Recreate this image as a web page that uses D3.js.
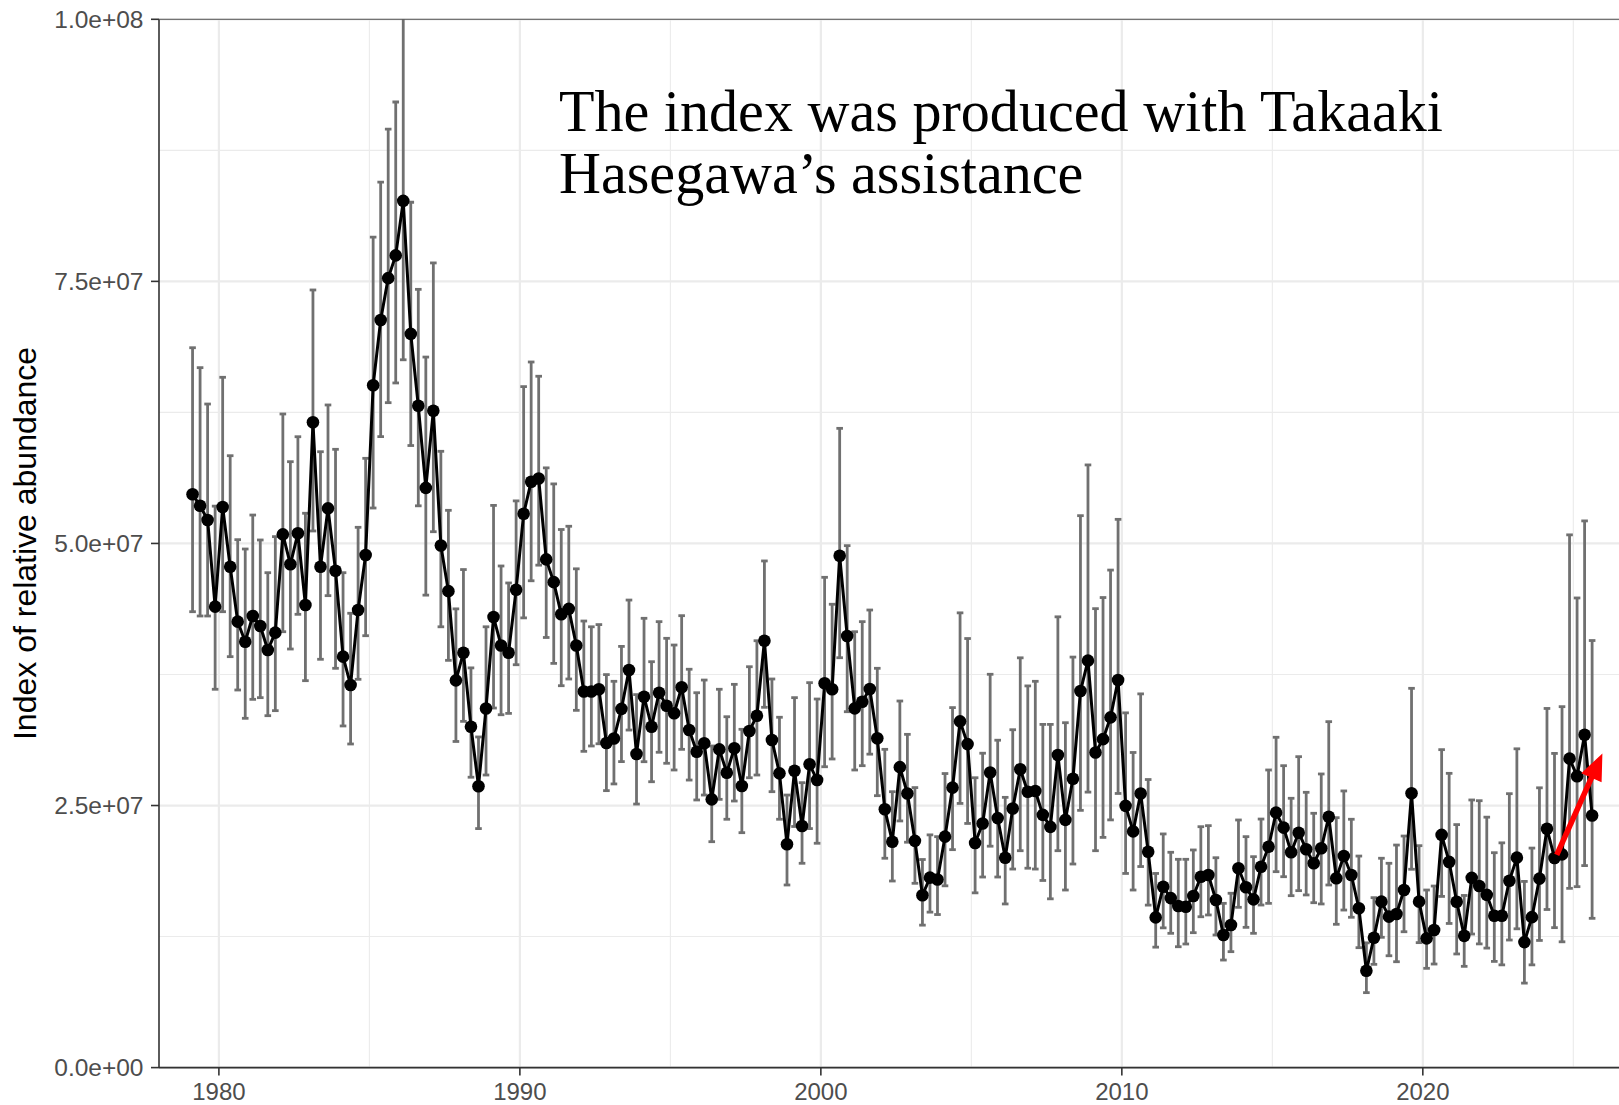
<!DOCTYPE html>
<html>
<head>
<meta charset="utf-8">
<script src="https://cdn.jsdelivr.net/npm/d3@7"></script>
<style>
  body { margin: 0; background: white; }
  svg { display: block; }
</style>
</head>
<body>
<div id="chart"></div>
<script>
// quarterly index, first quarter of 1979 onwards (units of 1e7)
const firstYear = 1979;
const index = [
  5.469, 5.360, 5.224, 4.397, 5.348, 4.778, 4.254, 4.063, 4.308, 4.213,
  3.984, 4.149, 5.087, 4.801, 5.097, 4.413, 6.156, 4.778, 5.335, 4.740,
  3.920, 3.650, 4.365, 4.890, 6.509, 7.131, 7.531, 7.748, 8.268, 6.999,
  6.313, 5.530, 6.266, 4.981, 4.545, 3.694, 3.958, 3.251, 2.684, 3.426,
  4.298, 4.027, 3.958, 4.559, 5.283, 5.589, 5.619, 4.848, 4.631, 4.324,
  4.376, 4.027, 3.588, 3.588, 3.609, 3.097, 3.140, 3.422, 3.793, 2.991,
  3.538, 3.252, 3.576, 3.452, 3.380, 3.628, 3.220, 3.013, 3.094, 2.559,
  3.036, 2.813, 3.046, 2.686, 3.211, 3.357, 4.072, 3.125, 2.807, 2.130,
  2.832, 2.305, 2.893, 2.743, 3.666, 3.609, 4.883, 4.117, 3.427, 3.490,
  3.612, 3.141, 2.464, 2.155, 2.866, 2.615, 2.163, 1.644, 1.812, 1.794,
  2.203, 2.671, 3.303, 3.086, 2.143, 2.329, 2.815, 2.380, 2.002, 2.471,
  2.846, 2.631, 2.638, 2.411, 2.296, 2.982, 2.363, 2.755, 3.592, 3.882,
  3.006, 3.133, 3.341, 3.698, 2.497, 2.253, 2.615, 2.059, 1.433, 1.725,
  1.617, 1.542, 1.535, 1.637, 1.821, 1.837, 1.599, 1.265, 1.360, 1.901,
  1.720, 1.605, 1.916, 2.107, 2.432, 2.289, 2.054, 2.241, 2.083, 1.949,
  2.092, 2.393, 1.806, 2.018, 1.837, 1.520, 0.924, 1.239, 1.583, 1.440,
  1.465, 1.694, 2.617, 1.583, 1.233, 1.313, 2.220, 1.962, 1.582, 1.257,
  1.810, 1.732, 1.648, 1.448, 1.448, 1.783, 2.003, 1.197, 1.435, 1.803,
  2.278, 2.000, 2.034, 2.947, 2.780, 3.175, 2.405
];
const lower = [
  4.349, 4.308, 4.308, 3.609, 4.349, 3.920, 3.602, 3.332, 3.513, 3.529,
  3.357, 3.405, 4.158, 3.993, 4.324, 3.691, 5.119, 3.895, 4.502, 3.809,
  3.259, 3.087, 3.704, 4.120, 5.338, 6.019, 6.343, 6.531, 6.752, 5.934,
  5.359, 4.507, 5.112, 4.205, 3.885, 3.111, 3.303, 2.770, 2.280, 2.791,
  3.430, 3.366, 3.379, 3.843, 4.290, 4.644, 4.793, 4.103, 3.856, 3.643,
  3.707, 3.408, 3.017, 3.068, 3.089, 2.642, 2.706, 2.919, 3.220, 2.514,
  2.918, 2.727, 3.008, 2.903, 2.839, 3.036, 2.743, 2.553, 2.600, 2.155,
  2.559, 2.369, 2.543, 2.241, 2.765, 2.791, 3.437, 2.632, 2.369, 1.742,
  2.300, 1.949, 2.280, 2.140, 2.870, 2.944, 3.910, 3.395, 2.839, 2.880,
  2.990, 2.594, 1.997, 1.780, 2.353, 2.150, 1.758, 1.359, 1.483, 1.460,
  1.734, 2.079, 2.520, 2.329, 1.667, 1.818, 2.112, 1.818, 1.561, 1.894,
  2.069, 1.902, 1.894, 1.785, 1.610, 2.069, 1.694, 1.942, 2.454, 2.628,
  2.069, 2.196, 2.363, 2.615, 1.852, 1.694, 1.918, 1.550, 1.149, 1.333,
  1.281, 1.153, 1.179, 1.287, 1.439, 1.456, 1.265, 1.026, 1.106, 1.529,
  1.338, 1.281, 1.551, 1.567, 1.869, 1.821, 1.640, 1.688, 1.647, 1.573,
  1.561, 1.742, 1.367, 1.503, 1.434, 1.144, 0.715, 0.985, 1.243, 1.067,
  1.010, 1.296, 1.892, 1.192, 0.947, 0.988, 1.633, 1.375, 1.084, 0.966,
  1.274, 1.180, 1.140, 1.013, 0.980, 1.217, 1.324, 0.806, 0.980, 1.213,
  1.508, 1.335, 1.200, 1.710, 1.726, 1.927, 1.424
];
const upper = [
  6.867, 6.677, 6.330, 5.356, 6.585, 5.837, 5.036, 4.947, 5.271, 5.033,
  4.721, 5.065, 6.235, 5.780, 6.018, 5.288, 7.418, 5.875, 6.321, 5.898,
  4.721, 4.334, 5.154, 5.812, 7.923, 8.447, 8.953, 9.211, 10.12, 8.255,
  7.424, 6.778, 7.676, 5.879, 5.316, 4.376, 4.751, 3.813, 3.154, 4.205,
  5.363, 4.785, 4.623, 5.406, 6.496, 6.731, 6.595, 5.721, 5.568, 5.133,
  5.164, 4.758, 4.260, 4.205, 4.226, 3.749, 3.685, 4.018, 4.460, 3.558,
  4.286, 3.872, 4.254, 4.095, 4.031, 4.311, 3.800, 3.576, 3.697, 3.068,
  3.609, 3.347, 3.656, 3.227, 3.824, 4.072, 4.833, 3.707, 3.342, 2.600,
  3.529, 2.718, 3.672, 3.516, 4.677, 4.420, 6.098, 4.979, 4.158, 4.254,
  4.365, 3.809, 3.036, 2.632, 3.497, 3.179, 2.671, 1.985, 2.220, 2.203,
  2.805, 3.434, 4.338, 4.093, 2.765, 2.999, 3.752, 3.123, 2.578, 3.223,
  3.909, 3.641, 3.685, 3.274, 3.274, 4.300, 3.290, 3.916, 5.265, 5.749,
  4.378, 4.484, 4.746, 5.230, 3.384, 3.006, 3.565, 2.748, 1.852, 2.229,
  2.054, 1.987, 1.987, 2.076, 2.298, 2.308, 2.002, 1.567, 1.663, 2.362,
  2.203, 2.012, 2.371, 2.839, 3.151, 2.880, 2.569, 2.966, 2.626, 2.426,
  2.801, 3.300, 2.384, 2.639, 2.369, 2.018, 1.190, 1.621, 1.997, 1.949,
  2.123, 2.209, 3.618, 2.117, 1.694, 1.732, 3.033, 2.807, 2.318, 1.642,
  2.553, 2.546, 2.389, 2.050, 2.144, 2.613, 3.041, 1.776, 2.094, 2.669,
  3.426, 2.997, 3.443, 5.082, 4.480, 5.215, 4.074
];
const unit = 1e7;

const yTickValues = [0, 2.5e7, 5e7, 7.5e7, 1e8];
const yTickLabels = ["0.0e+00", "2.5e+07", "5.0e+07", "7.5e+07", "1.0e+08"];
const yMinor = [1.25e7, 3.75e7, 6.25e7, 8.75e7];
const xTickValues = [1980, 1990, 2000, 2010, 2020];
const xMinor = [1985, 1995, 2005, 2015, 2025];

// red arrow: [year, value]
const arrowFrom = [2024.45, 2.03e7];
const arrowTo = [2025.94, 2.98e7];

const noteLines = ["The index was produced with Takaaki", "Hasegawa\u2019s assistance"];
const yTitle = "Index of relative abundance";

const data = index.map((v, i) => ({
  t: firstYear + (i + 0.5) / 4,
  v: v * unit,
  lo: lower[i] * unit,
  hi: upper[i] * unit
}));

// layout
const W = 1619, H = 1105;
const pLeft = 159, pTop = 19.3, pBottom = 1067.6, pRight = 1619;

const svg = d3.select("#chart").append("svg")
  .attr("width", W).attr("height", H)
  .style("background", "white");

const x = d3.scaleLinear().domain([1978.01, 2026.518]).range([pLeft, pRight]);
const y = d3.scaleLinear().domain([0, 1e8]).range([pBottom, pTop]);

svg.append("clipPath").attr("id", "panel")
  .append("rect")
  .attr("x", pLeft).attr("y", pTop)
  .attr("width", pRight - pLeft).attr("height", pBottom - pTop);

// grid
const grid = svg.append("g");
grid.selectAll(".ymin").data(yMinor).join("line")
  .attr("x1", pLeft).attr("x2", pRight)
  .attr("y1", d => y(d)).attr("y2", d => y(d))
  .attr("stroke", "#ebebeb").attr("stroke-width", 1.1);
grid.selectAll(".xmin").data(xMinor).join("line")
  .attr("x1", d => x(d)).attr("x2", d => x(d))
  .attr("y1", pTop).attr("y2", pBottom)
  .attr("stroke", "#ebebeb").attr("stroke-width", 1.1);
grid.selectAll(".ymaj").data(yTickValues).join("line")
  .attr("x1", pLeft).attr("x2", pRight)
  .attr("y1", d => y(d)).attr("y2", d => y(d))
  .attr("stroke", "#ebebeb").attr("stroke-width", 2.2);
grid.selectAll(".xmaj").data(xTickValues).join("line")
  .attr("x1", d => x(d)).attr("x2", d => x(d))
  .attr("y1", pTop).attr("y2", pBottom)
  .attr("stroke", "#ebebeb").attr("stroke-width", 2.2);

const plot = svg.append("g").attr("clip-path", "url(#panel)");

// error bars
const capHalf = 3.3;
const bars = plot.append("g")
  .attr("stroke", "#707070").attr("stroke-width", 2.8);
bars.selectAll(".bar").data(data).join("line")
  .attr("x1", d => x(d.t)).attr("x2", d => x(d.t))
  .attr("y1", d => y(d.lo)).attr("y2", d => y(d.hi));
bars.selectAll(".capLo").data(data).join("line")
  .attr("x1", d => x(d.t) - capHalf).attr("x2", d => x(d.t) + capHalf)
  .attr("y1", d => y(d.lo)).attr("y2", d => y(d.lo));
bars.selectAll(".capHi").data(data).join("line")
  .attr("x1", d => x(d.t) - capHalf).attr("x2", d => x(d.t) + capHalf)
  .attr("y1", d => y(d.hi)).attr("y2", d => y(d.hi));

// line + points
const line = d3.line().x(d => x(d.t)).y(d => y(d.v));
plot.append("path").datum(data)
  .attr("d", line)
  .attr("fill", "none")
  .attr("stroke", "black")
  .attr("stroke-width", 3)
  .attr("stroke-linejoin", "round");

plot.selectAll(".pt").data(data).join("circle")
  .attr("cx", d => x(d.t)).attr("cy", d => y(d.v))
  .attr("r", 6.3).attr("fill", "black");

// red arrow
const ax0 = x(arrowFrom[0]), ay0 = y(arrowFrom[1]);
const ax1 = x(arrowTo[0]), ay1 = y(arrowTo[1]);
const len = Math.hypot(ax1 - ax0, ay1 - ay0);
const ux = (ax1 - ax0) / len, uy = (ay1 - ay0) / len;
const headLen = 24, headHalf = 10;
const bx = ax1 - ux * headLen, by = ay1 - uy * headLen;
plot.append("line")
  .attr("x1", ax0).attr("y1", ay0)
  .attr("x2", bx + ux * 2).attr("y2", by + uy * 2)
  .attr("stroke", "red").attr("stroke-width", 5.5);
plot.append("path")
  .attr("d", "M" + ax1 + "," + ay1 +
    "L" + (bx - uy * headHalf) + "," + (by + ux * headHalf) +
    "L" + (bx + uy * headHalf) + "," + (by - ux * headHalf) + "Z")
  .attr("fill", "red").attr("stroke", "red").attr("stroke-width", 1.5)
  .attr("stroke-linejoin", "miter");

// frame (left, bottom, top)
svg.append("line")
  .attr("x1", pLeft).attr("x2", pLeft).attr("y1", pTop).attr("y2", pBottom)
  .attr("stroke", "#333").attr("stroke-width", 1.6);
svg.append("line")
  .attr("x1", pLeft).attr("x2", pRight).attr("y1", pBottom).attr("y2", pBottom)
  .attr("stroke", "#333").attr("stroke-width", 1.6);
svg.append("line")
  .attr("x1", pLeft).attr("x2", pRight).attr("y1", pTop).attr("y2", pTop)
  .attr("stroke", "#555").attr("stroke-width", 1);

// axes ticks + labels
const yAxis = svg.append("g");
yAxis.selectAll(".tk").data(yTickValues).join("line")
  .attr("x1", pLeft - 8).attr("x2", pLeft)
  .attr("y1", d => y(d)).attr("y2", d => y(d))
  .attr("stroke", "#333").attr("stroke-width", 1.6);
yAxis.selectAll(".lb").data(yTickValues).join("text")
  .attr("x", 143.5).attr("y", d => y(d))
  .attr("dy", "0.36em")
  .attr("text-anchor", "end")
  .attr("font-family", "Liberation Sans, Arial, sans-serif")
  .attr("font-size", 24.5)
  .attr("fill", "#4d4d4d")
  .text((d, i) => yTickLabels[i]);

const xAxis = svg.append("g");
xAxis.selectAll(".tk").data(xTickValues).join("line")
  .attr("x1", d => x(d)).attr("x2", d => x(d))
  .attr("y1", pBottom).attr("y2", pBottom + 8)
  .attr("stroke", "#333").attr("stroke-width", 1.6);
xAxis.selectAll(".lb").data(xTickValues).join("text")
  .attr("x", d => x(d)).attr("y", 1100)
  .attr("text-anchor", "middle")
  .attr("font-family", "Liberation Sans, Arial, sans-serif")
  .attr("font-size", 24)
  .attr("fill", "#4d4d4d")
  .text(d => d);

svg.append("text")
  .attr("transform", "translate(36," + ((pTop + pBottom) / 2) + ") rotate(-90)")
  .attr("text-anchor", "middle")
  .attr("font-family", "Liberation Sans, Arial, sans-serif")
  .attr("font-size", 32)
  .attr("fill", "black")
  .text(yTitle);

// annotation
const note = svg.append("g")
  .attr("font-family", "Liberation Serif, Times New Roman, serif")
  .attr("fill", "black");
const first = note.append("text")
  .attr("x", 559).attr("y", 130.7)
  .attr("font-size", 50)
  .text(noteLines[0]);
const fs = 50 * 884 / first.node().getComputedTextLength();
first.attr("font-size", fs);
note.append("text")
  .attr("x", 559).attr("y", 192.7)
  .attr("font-size", fs)
  .text(noteLines[1]);
</script>
</body>
</html>
